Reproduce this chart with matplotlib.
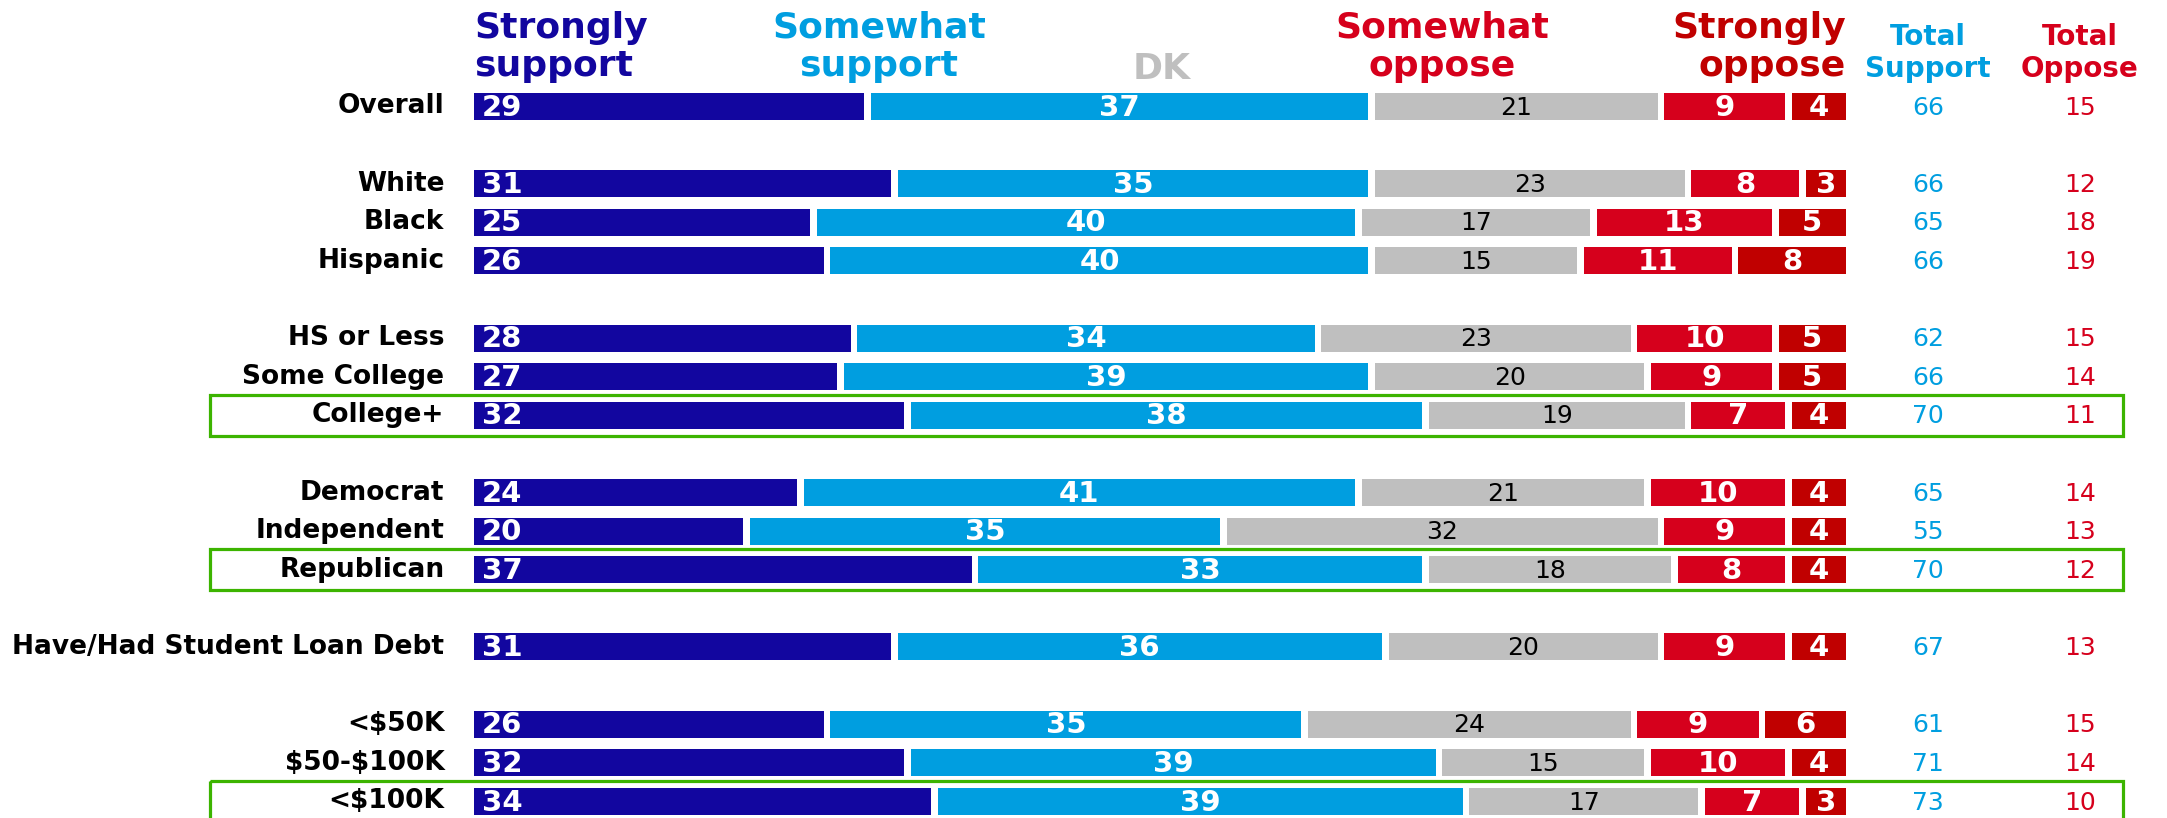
import matplotlib.pyplot as plt
from matplotlib.patches import Rectangle

# row labels and slot positions (blank slots separate the groups)
groups = ['Overall', 'White', 'Black', 'Hispanic', 'HS or Less', 'Some College', 'College+',
          'Democrat', 'Independent', 'Republican', 'Have/Had Student Loan Debt',
          '<$50K', '$50-$100K', '<$100K']
slots = [0, 2, 3, 4, 6, 7, 8, 10, 11, 12, 14, 16, 17, 18]

strongly_support = [29, 31, 25, 26, 28, 27, 32, 24, 20, 37, 31, 26, 32, 34]
somewhat_support = [37, 35, 40, 40, 34, 39, 38, 41, 35, 33, 36, 35, 39, 39]
dk = [21, 23, 17, 15, 23, 20, 19, 21, 32, 18, 20, 24, 15, 17]
somewhat_oppose = [9, 8, 13, 11, 10, 9, 7, 10, 9, 8, 9, 9, 10, 7]
strongly_oppose = [4, 3, 5, 8, 5, 5, 4, 4, 4, 4, 4, 6, 4, 3]
total_support = [66, 66, 65, 66, 62, 66, 70, 65, 55, 70, 67, 61, 71, 73]
total_oppose = [15, 12, 18, 19, 15, 14, 11, 14, 13, 12, 13, 15, 14, 10]
highlight = ['College+', 'Republican', '<$100K']

NAVY = '#12069f'
BLUE = '#009ee0'
GRAY = '#bfbfbf'
RED = '#d6001c'
DRED = '#c00000'
GREEN = '#3cb400'

plt.rcParams['font.family'] = ['DejaVu Sans']
plt.rcParams['text.parse_math'] = False

fig = plt.figure(figsize=(21.67, 8.18), dpi=100)
ax = fig.add_axes([0, 0, 1, 1])
ax.set_xlim(-35.24, 125.87)
ax.set_ylim(18.43, -2.757)
ax.axis('off')

gap = 0.5
h = 0.70
series = [
    (strongly_support, NAVY, 'white', 'bold'),
    (somewhat_support, BLUE, 'white', 'bold'),
    (dk, GRAY, 'black', 'normal'),
    (somewhat_oppose, RED, 'white', 'bold'),
    (strongly_oppose, DRED, 'white', 'bold'),
]

for i, (name, y) in enumerate(zip(groups, slots)):
    left = 0
    for k, (vals, col, tcol, tw) in enumerate(series):
        v = vals[i]
        ax.barh(y, v, left=left, height=h, color=col, edgecolor='none')
        if k == 0:
            ax.text(left + 0.6, y + 0.03, str(v), ha='left', va='center',
                    color=tcol, fontsize=21, fontweight=tw)
        else:
            ax.text(left + v / 2, y + 0.03, str(v), ha='center', va='center',
                    color=tcol, fontsize=21 if tw == 'bold' else 18, fontweight=tw)
        left += v + gap
    ax.text(-2.2, y, name, ha='right', va='center', fontsize=19, fontweight='bold')
    ax.text(108.1, y + 0.03, str(total_support[i]), ha='center', va='center',
            fontsize=18, color=BLUE)
    ax.text(119.4, y + 0.03, str(total_oppose[i]), ha='center', va='center',
            fontsize=18, color=RED)
    if name in highlight:
        ax.add_patch(Rectangle((-19.6, y - 0.53), 142.2, 1.06, fill=False,
                               edgecolor=GREEN, linewidth=2.3, clip_on=False))

# column headers
hdr = dict(fontsize=26, fontweight='bold', va='center', linespacing=1.15)
ax.text(0, -1.54, 'Strongly\nsupport', ha='left', color=NAVY, **hdr)
ax.text(30.1, -1.54, 'Somewhat\nsupport', ha='center', color=BLUE, **hdr)
ax.text(51.1, -0.97, 'DK', ha='center', color=GRAY, **hdr)
ax.text(72.0, -1.54, 'Somewhat\noppose', ha='center', color=RED, multialignment='center', **hdr)
ax.text(102, -1.54, 'Strongly\noppose', ha='right', color=DRED, multialignment='right', **hdr)
ax.text(108.1, -1.38, 'Total\nSupport', ha='center', va='center', fontsize=20,
        fontweight='bold', color=BLUE, linespacing=1.2)
ax.text(119.4, -1.38, 'Total\nOppose', ha='center', va='center', fontsize=20,
        fontweight='bold', color=RED, linespacing=1.2)

fig.savefig('out.png', dpi=100)
